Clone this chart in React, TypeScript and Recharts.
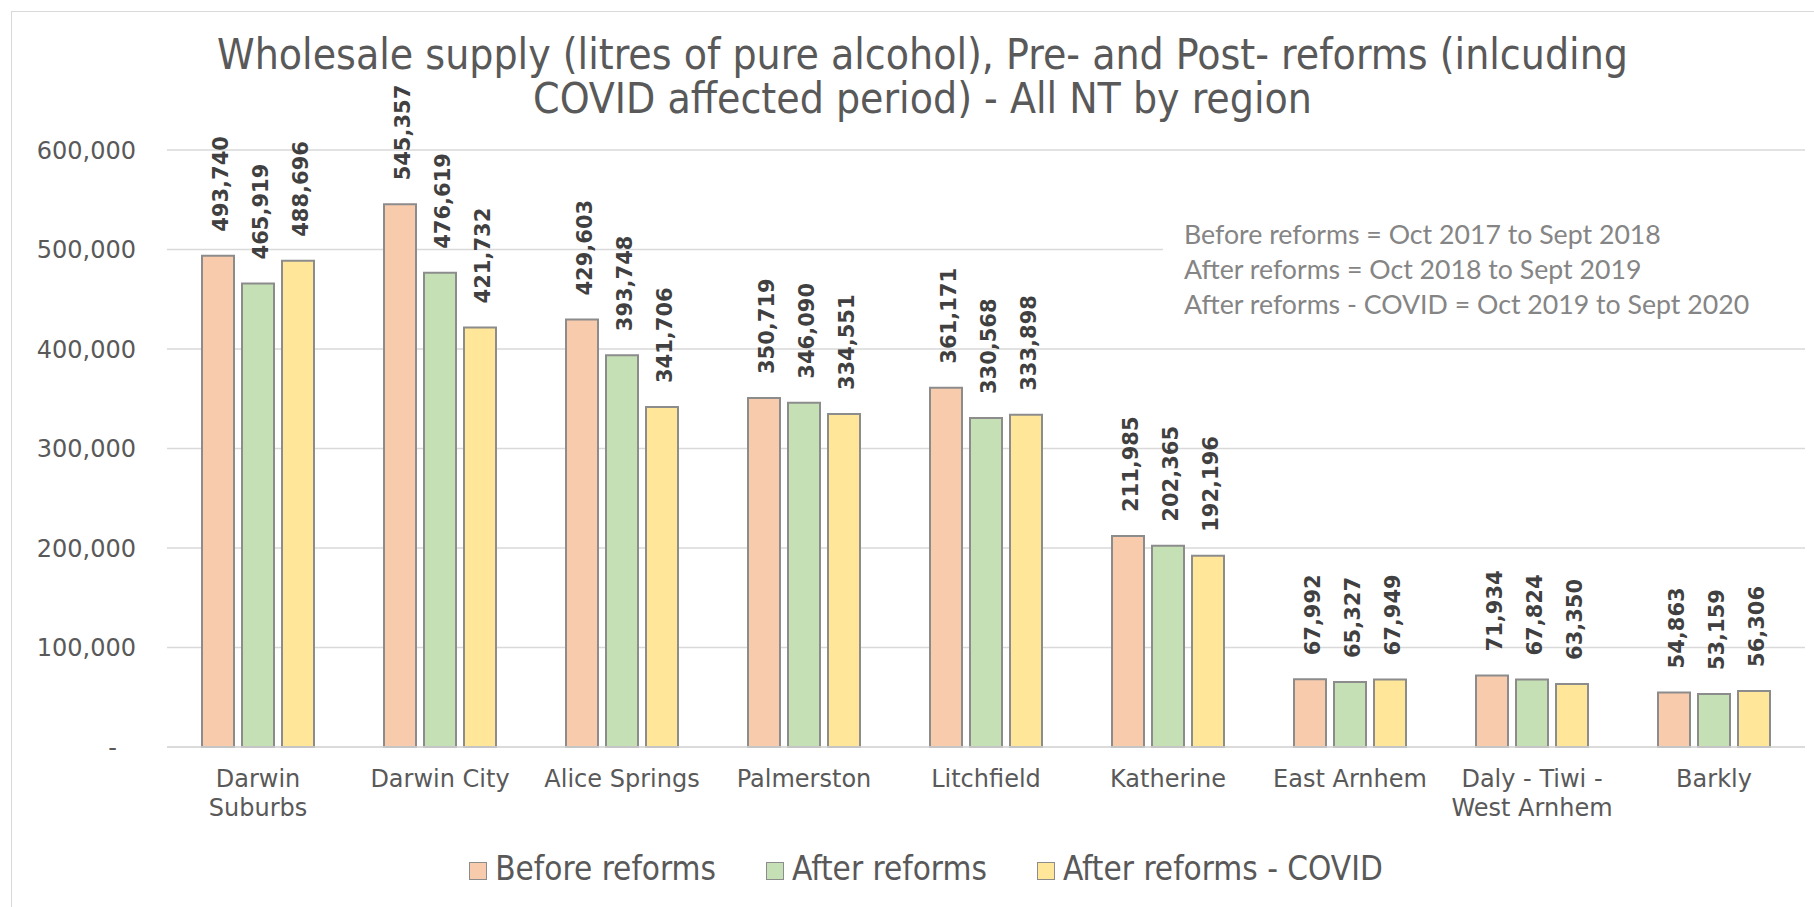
import { BarChart, Bar, XAxis, YAxis, CartesianGrid, LabelList } from "recharts";

const regions = [
  "Darwin\nSuburbs",
  "Darwin City",
  "Alice Springs",
  "Palmerston",
  "Litchfield",
  "Katherine",
  "East Arnhem",
  "Daly - Tiwi -\nWest Arnhem",
  "Barkly",
];
const beforeReforms = [493740, 545357, 429603, 350719, 361171, 211985, 67992, 71934, 54863];
const afterReforms = [465919, 476619, 393748, 346090, 330568, 202365, 65327, 67824, 53159];
const afterCovid = [488696, 421732, 341706, 334551, 333898, 192196, 67949, 63350, 56306];
const yTicks = [0, 100000, 200000, 300000, 400000, 500000, 600000];

const titleLines = [
  "Wholesale supply (litres of pure alcohol), Pre- and Post- reforms (inlcuding",
  "COVID affected period) - All NT by region",
];
const noteLines = [
  "Before reforms = Oct 2017 to Sept 2018",
  "After reforms = Oct 2018 to Sept 2019",
  "After reforms - COVID = Oct 2019 to Sept 2020",
];

const SERIES = [
  { key: "before", name: "Before reforms", color: "#f8cbad" },
  { key: "after", name: "After reforms", color: "#c5e0b4" },
  { key: "covid", name: "After reforms - COVID", color: "#ffe699" },
];

const data = regions.map((region, i) => ({
  region,
  before: beforeReforms[i],
  after: afterReforms[i],
  covid: afterCovid[i],
}));

const AXIS_FONT = "'DejaVu Sans', Verdana, sans-serif";
const NARROW_FONT = "'DejaVu Sans Condensed', 'DejaVu Sans', Tahoma, sans-serif";
const fmt = (v: number) => v.toLocaleString("en-US");

function BarLabel(props: any) {
  const { x, y, width, value } = props;
  const cx = Number(x) + Number(width) / 2 + 10;
  const by = Number(y) - 24;
  return (
    <text
      x={cx}
      y={by}
      transform={`rotate(-90 ${cx} ${by})`}
      textAnchor="start"
      fontFamily={AXIS_FONT}
      fontWeight="bold"
      fontSize={21}
      fill="#404040"
    >
      {fmt(value)}
    </text>
  );
}

function YTick(props: any) {
  const { x, y, payload } = props;
  const zero = payload.value === 0;
  return (
    <text
      x={zero ? x - 19 : x}
      y={y}
      dy="0.355em"
      textAnchor="end"
      fontFamily={AXIS_FONT}
      fontSize={24}
      fill="#595959"
    >
      {zero ? "-" : fmt(payload.value)}
    </text>
  );
}

function XTick(props: any) {
  const { x, y, payload } = props;
  const lines = String(payload.value).split("\n");
  return (
    <text x={x} y={y} textAnchor="middle" fontFamily={AXIS_FONT} fontSize={24} fill="#595959">
      {lines.map((l, i) => (
        <tspan key={i} x={x} dy={i === 0 ? "0.71em" : 29}>
          {l}
        </tspan>
      ))}
    </text>
  );
}

export default function App() {
  return (
    <div
      style={{
        position: "absolute",
        left: 0,
        top: 0,
        width: 1814,
        height: 907,
        background: "#fff",
        overflow: "hidden",
      }}
    >
      <div
        style={{
          position: "absolute",
          left: 11,
          top: 11,
          width: 1900,
          height: 1000,
          border: "1.5px solid #d9d9d9",
        }}
      />
      <div
        style={{
          position: "absolute",
          left: 0,
          top: 33,
          width: 1845,
          textAlign: "center",
          fontFamily: NARROW_FONT,
          fontStretch: "condensed",
          fontSize: 42.3,
          lineHeight: "44px",
          color: "#595959",
          whiteSpace: "nowrap",
        }}
      >
        {titleLines.map((t) => (
          <div key={t}>{t}</div>
        ))}
      </div>

      <div style={{ position: "absolute", left: 0, top: 0 }}>
        <BarChart
          width={1814}
          height={907}
          data={data}
          margin={{ top: 150, right: 9, bottom: 100, left: 67 }}
          barSize={32}
          barGap={8}
        >
          <CartesianGrid vertical={false} stroke="#d9d9d9" strokeWidth={1.5} />
          <XAxis
            dataKey="region"
            interval={0}
            height={60}
            tickLine={false}
            tickSize={0}
            tickMargin={23}
            axisLine={{ stroke: "#d9d9d9", strokeWidth: 1.5 }}
            tick={<XTick />}
          />
          <YAxis
            width={100}
            domain={[0, 600000]}
            ticks={yTicks}
            tickLine={false}
            axisLine={false}
            tickSize={0}
            tickMargin={31}
            tick={<YTick />}
          />
          {SERIES.map((s) => (
            <Bar
              key={s.key}
              dataKey={s.key}
              name={s.name}
              fill={s.color}
              stroke="#8c8c8c"
              strokeWidth={2}
              isAnimationActive={false}
            >
              <LabelList dataKey={s.key} content={<BarLabel />} />
            </Bar>
          ))}
        </BarChart>
      </div>

      <div
        style={{
          position: "absolute",
          left: 1163,
          top: 205,
          width: 642,
          height: 132,
          background: "#fff",
          boxSizing: "border-box",
          paddingLeft: 21,
          paddingTop: 12,
          fontFamily: "Lato, sans-serif",
          fontSize: 26.7,
          lineHeight: "35px",
          color: "#858585",
          whiteSpace: "nowrap",
        }}
      >
        {noteLines.map((t) => (
          <div key={t}>{t}</div>
        ))}
      </div>

      <div
        style={{
          position: "absolute",
          left: 0,
          top: 851,
          width: 1852,
          display: "flex",
          justifyContent: "center",
          alignItems: "center",
          gap: 50,
          fontFamily: NARROW_FONT,
          fontStretch: "condensed",
          fontSize: 33,
          lineHeight: "36px",
          color: "#595959",
          whiteSpace: "nowrap",
        }}
      >
        {SERIES.map((s) => (
          <div key={s.key} style={{ display: "flex", alignItems: "center" }}>
            <span
              style={{
                display: "inline-block",
                width: 18,
                height: 18,
                boxSizing: "border-box",
                background: s.color,
                border: "1.5px solid #8c8c8c",
                marginRight: 8,
                marginTop: 3,
              }}
            />
            <span>{s.name}</span>
          </div>
        ))}
      </div>
    </div>
  );
}
